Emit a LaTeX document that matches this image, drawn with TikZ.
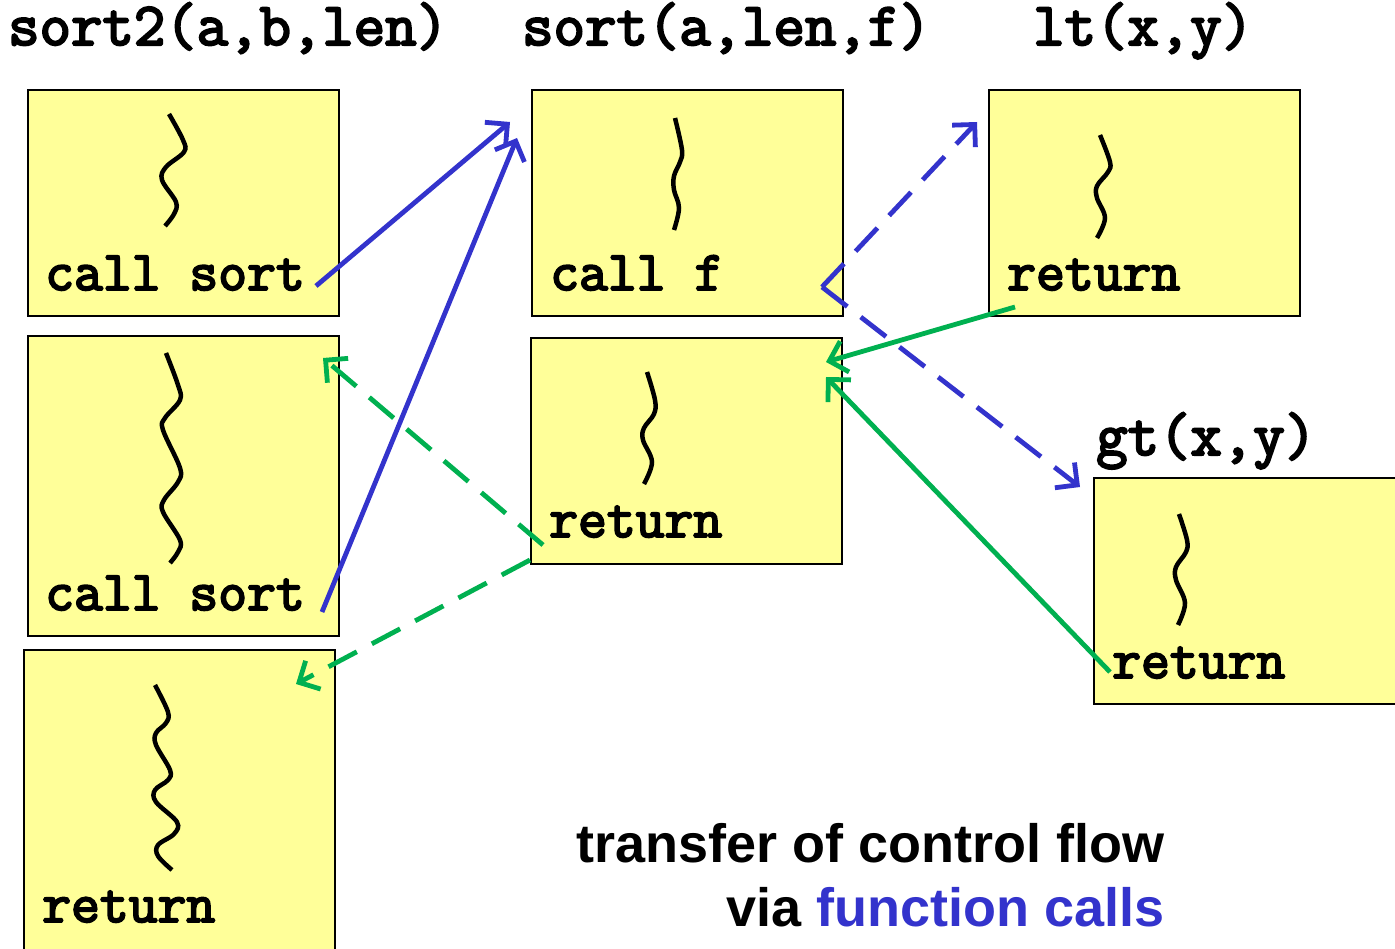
\documentclass[tikz,border=0pt]{standalone}
\usepackage{fontspec}
\setmainfont{Liberation Sans}
\newfontfamily\codefont[FakeBold=3.5]{Latin Modern Mono}
\usetikzlibrary{arrows.meta}
\definecolor{callblue}{HTML}{3333CC}
\definecolor{retgreen}{HTML}{00B050}
\definecolor{frameyellow}{HTML}{FFFF99}

\begin{document}
\begin{tikzpicture}[x=1pt,y=-1pt,
  frame/.style={draw=black, line width=1.5pt, fill=frameyellow, anchor=north west,
    minimum width=311pt, minimum height=226pt, inner sep=0pt, outer sep=0pt},
  code/.style={font=\codefont\fontsize{56}{56}\selectfont, anchor=base west, inner sep=0pt},
  title/.style={font=\codefont\fontsize{61}{61}\selectfont, anchor=base west, inner sep=0pt},
  squiggle/.style={line width=4.5pt, black},
  barb/.style={-{Straight Barb[length=16pt,width=32pt]}},
  call/.style={callblue, line width=4.8pt, barb},
  ret/.style={retgreen, line width=4.8pt, barb},
  longdash/.style={dash pattern=on 32pt off 17pt},
]
\useasboundingbox (0,0) rectangle (1395,949);
\clip (0,0) rectangle (1395,949);

% function titles
\node[title] (tsort2) at (8,45)   {sort2(a,b,len)};
\node[title] (tsort)  at (522,45) {sort(a,len,f)};
\node[title] (tlt)    at (1033,45) {lt(x,y)};
\node[title] (tgt)    at (1096,455) {gt(x,y)};

% activation frames
\node[frame] (s2a) at (28,90)  {};
\node[frame, minimum height=300pt] (s2b) at (28,336) {};
\node[frame, minimum height=310pt] (s2c) at (24,650) {};
\node[frame] (sa)  at (532,90)  {};
\node[frame] (sb)  at (531,338) {};
\node[frame] (lt)  at (989,90)  {};
\node[frame] (gt)  at (1094,478) {};

% code lines
\node[code] (cA) at (45,290) {call sort};
\node[code] (cB) at (45,610) {call sort};
\node[code] (cC) at (42,922) {return};
\node[code] (cD) at (550,290) {call f};
\node[code] (cE) at (549,537) {return};
\node[code] (cF) at (1007,290) {return};
\node[code] (cG) at (1112,678) {return};

% squiggles standing for elided code
\draw[squiggle] plot[smooth, tension=0.6] coordinates
  {(169,114) (183,140) (184,152) (166,167) (162,180) (176,202) (174,214) (165,226)};
\draw[squiggle] plot[smooth, tension=0.6] coordinates
  {(166,353) (178,385) (180,400) (165,418) (163,430) (180,468) (178,482) (164,500) (163,512) (180,540) (178,552) (170,563)};
\draw[squiggle] plot[smooth, tension=0.6] coordinates
  {(155,685) (168,712) (166,723) (156,733) (156,745) (170,770) (168,780) (155,790) (156,802) (177,822) (174,834) (158,845) (158,856) (172,870)};
\draw[squiggle] plot[smooth, tension=0.6] coordinates
  {(675,118) (682,150) (680,162) (674,176) (674,190) (679,208) (674,230)};
\draw[squiggle] plot[smooth, tension=0.6] coordinates
  {(647,372) (655,400) (654,414) (644,428) (643,440) (652,462) (644,484)};
\draw[squiggle] plot[smooth, tension=0.6] coordinates
  {(1100,135) (1110,162) (1108,172) (1097,186) (1097,198) (1105,218) (1097,238)};
\draw[squiggle] plot[smooth, tension=0.6] coordinates
  {(1179,514) (1187,540) (1186,552) (1176,567) (1176,580) (1185,603) (1178,625)};

% anchor points of the control transfers
\coordinate (callA) at (316,286);
\coordinate (callB) at (322,612);
\coordinate (callf) at (822,287);
\coordinate (entryS1) at (510,122);
\coordinate (entryS2) at (517,138);
\coordinate (entryLt) at (977,122);
\coordinate (entryGt) at (1080,487);
\coordinate (retLt) at (1015,307);
\coordinate (retGt) at (1110,672);
\coordinate (backF1) at (826,362);
\coordinate (backF2) at (826,377);
\coordinate (retS1) at (543,545);
\coordinate (retS2) at (530,560);
\coordinate (backA) at (323,358);
\coordinate (backB) at (296,684);

% calls
\draw[call] (callA) -- (entryS1);
\draw[call] (callB) -- (entryS2);
\draw[call, longdash, line join=miter] (callf) -- (entryLt);
\draw[call, longdash, line join=miter] (callf) -- (entryGt);

% returns
\draw[ret] (retLt) -- (backF1);
\draw[ret] (retGt) -- (backF2);
\draw[ret, longdash] (retS1) -- (backA);
\draw[ret, longdash] (retS2) -- (backB);

% caption
\node[anchor=base east, inner sep=0pt, font=\bfseries\fontsize{54}{54}\selectfont] (cap1)
  at (1165,862) {transfer of control flow};
\node[anchor=base east, inner sep=0pt, font=\bfseries\fontsize{54}{54}\selectfont] (cap2)
  at (1165,926) {via \textcolor{callblue}{function calls}};
\end{tikzpicture}
\end{document}
